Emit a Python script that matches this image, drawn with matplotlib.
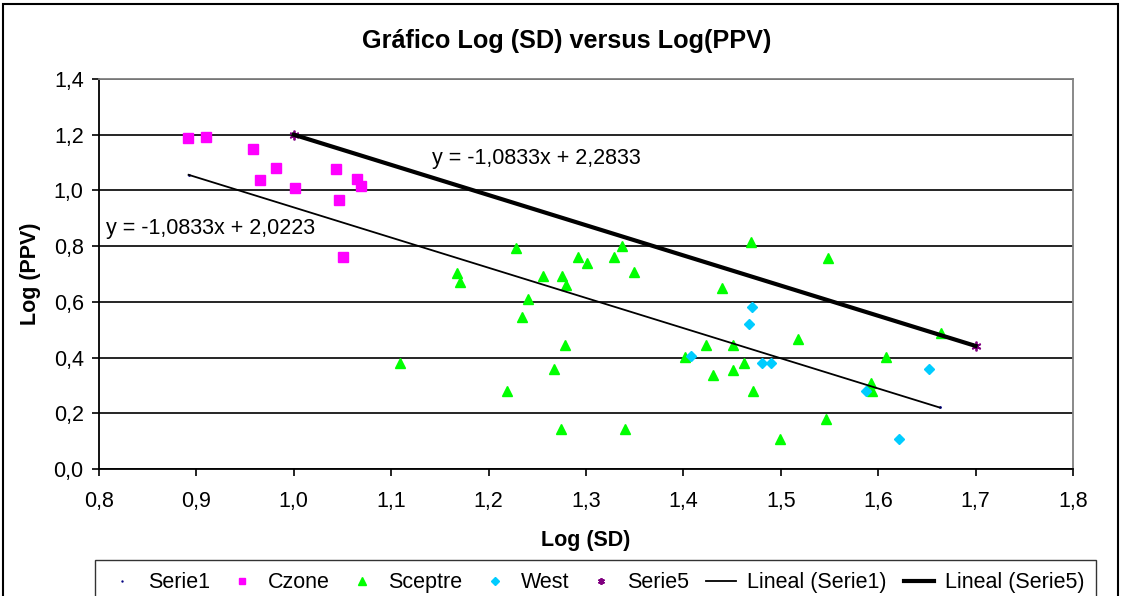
import numpy as np
import matplotlib
matplotlib.use('Agg')
import matplotlib.pyplot as plt
from matplotlib.ticker import FuncFormatter, MultipleLocator
from matplotlib.patches import Rectangle

plt.rcParams['font.family'] = ['Liberation Sans', 'DejaVu Sans']

# Czone
czone_x = [0.891, 0.910, 0.958, 0.982, 0.965, 1.001, 1.043, 1.065, 1.069, 1.046, 1.051]
czone_y = [1.189, 1.192, 1.149, 1.081, 1.037, 1.009, 1.076, 1.042, 1.015, 0.964, 0.762]

# Sceptre
sceptre_x = [1.228, 1.292, 1.301, 1.329, 1.337, 1.168, 1.171, 1.256, 1.275, 1.279,
             1.240, 1.234, 1.278, 1.109, 1.267, 1.219, 1.274, 1.340, 1.469, 1.548,
             1.349, 1.440, 1.518, 1.423, 1.451, 1.664, 1.608, 1.402, 1.462, 1.451,
             1.430, 1.472, 1.593, 1.594, 1.546, 1.499]
sceptre_y = [0.792, 0.760, 0.738, 0.760, 0.800, 0.705, 0.671, 0.693, 0.694, 0.659,
             0.609, 0.547, 0.446, 0.379, 0.358, 0.279, 0.144, 0.144, 0.816, 0.756,
             0.706, 0.649, 0.466, 0.446, 0.446, 0.487, 0.403, 0.403, 0.379, 0.356,
             0.336, 0.279, 0.308, 0.279, 0.178, 0.107]

# West
west_x = [1.470, 1.467, 1.408, 1.481, 1.490, 1.588, 1.652, 1.621]
west_y = [0.583, 0.522, 0.404, 0.382, 0.382, 0.280, 0.359, 0.107]

# Serie1 / Serie5
serie1_x = [0.892, 1.663]
serie1_y = [1.056, 0.221]
serie5_x = [1.0, 1.7]
serie5_y = [1.2, 0.4417]

# lineas de tendencia: pendiente, intercepto, rango en x
trend1 = (-1.0833, 2.0223, (0.892, 1.663))
trend5 = (-1.0833, 2.2833, (1.0, 1.7))

FS = 15.5


def fmt(v):
    return f"{v:.4f}".replace('.', ',')


def eq_label(slope, intercept):
    sign = '+' if intercept >= 0 else '-'
    return f"y = {fmt(slope)}x {sign} {fmt(abs(intercept))}"


comma = FuncFormatter(lambda v, p: f"{v:.1f}".replace('.', ','))

fig = plt.figure(figsize=(11.22, 5.96), dpi=100)
ax = fig.add_axes([0.0882, 0.2131, 0.8681, 0.6544])

ax.plot(serie1_x, serie1_y, linestyle='none', marker='o', ms=1.0,
        color='#000080', label='Serie1', zorder=1)
ax.plot(czone_x, czone_y, linestyle='none', marker='s', ms=6.5,
        color='#FF00FF', label='Czone')
ax.plot(sceptre_x, sceptre_y, linestyle='none', marker='^', ms=7.5,
        color='#00FF00', label='Sceptre')
ax.plot(west_x, west_y, linestyle='none', marker='D', ms=5.5,
        color='#00CCFF', label='West')
ax.plot(serie5_x, serie5_y, linestyle='none', marker=(6, 2, 0), ms=7,
        mew=1.3, color='#800080', label='Serie5')

for (m, b, (x0, x1)), lw, name in [(trend1, 1.3, 'Lineal (Serie1)'),
                                   (trend5, 3.0, 'Lineal (Serie5)')]:
    xs = np.array([x0, x1])
    ax.plot(xs, m * xs + b, color='black', lw=lw, label=name, zorder=2)

ax.text(0.807, 0.862, eq_label(*trend1[:2]), fontsize=FS, va='center')
ax.text(1.142, 1.115, eq_label(*trend5[:2]), fontsize=FS, va='center')

ax.set_xlim(0.8, 1.8)
ax.set_ylim(0.0, 1.4)
ax.xaxis.set_major_locator(MultipleLocator(0.1))
ax.yaxis.set_major_locator(MultipleLocator(0.2))
ax.xaxis.set_major_formatter(comma)
ax.yaxis.set_major_formatter(comma)
ax.tick_params(direction='out', length=5, width=1.2, labelsize=FS)
ax.tick_params(axis='x', pad=11)
ax.tick_params(axis='y', pad=6)
ax.yaxis.grid(True, color='black', lw=1.2)
ax.set_axisbelow(True)
for s in ['left', 'bottom']:
    ax.spines[s].set_linewidth(1.3)
for s in ['top', 'right']:
    ax.spines[s].set_color('#808080')
    ax.spines[s].set_linewidth(1.3)

ax.set_xlabel('Log (SD)', fontsize=FS, fontweight='bold', labelpad=13)
ax.set_ylabel('Log (PPV)', fontsize=FS, fontweight='bold', labelpad=9)
fig.suptitle('Gráfico Log (SD) versus Log(PPV)', fontsize=18.2,
             fontweight='bold', x=0.505, y=0.952)

leg = ax.legend(loc='upper center', bbox_to_anchor=(0.531, 0.078),
                bbox_transform=fig.transFigure, ncol=7, fontsize=FS,
                frameon=True, fancybox=False, edgecolor='black',
                handlelength=1.4, handletextpad=0.5, columnspacing=0.8,
                borderpad=0.55, markerscale=0.7)
leg.get_frame().set_linewidth(1.0)

fig.add_artist(Rectangle((0.003, -0.1), 0.993, 1.094, transform=fig.transFigure,
                         fill=False, edgecolor='black', lw=1.5))

fig.savefig('out.png', dpi=100)
